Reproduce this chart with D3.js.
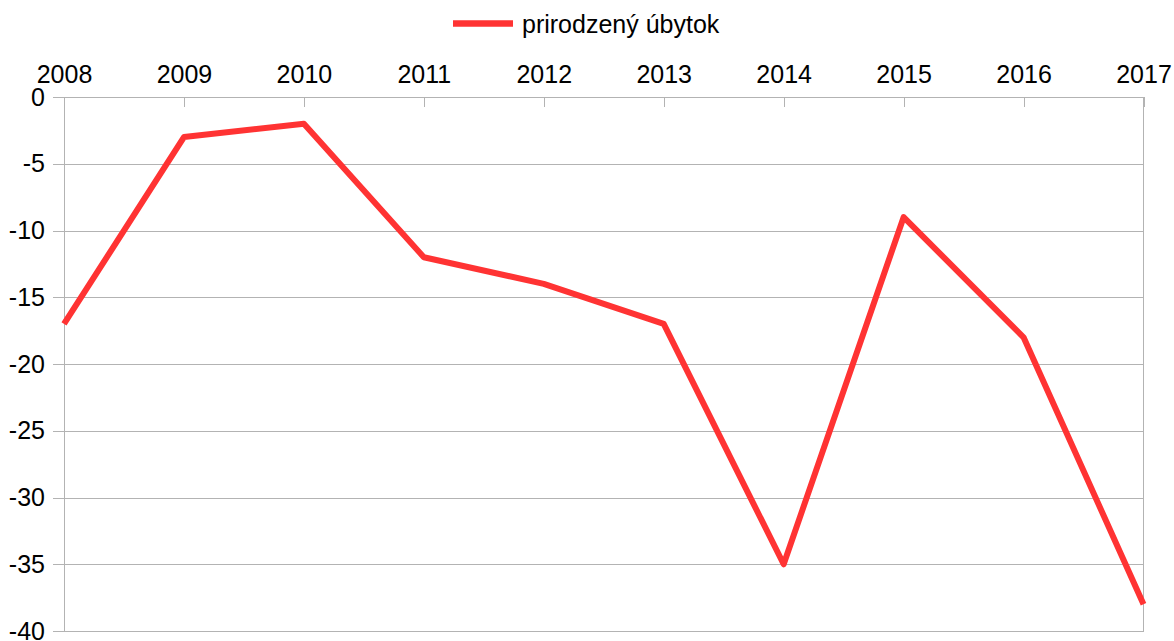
<!DOCTYPE html>
<html>
<head>
<meta charset="utf-8">
<script src="https://cdn.jsdelivr.net/npm/d3@7"></script>
<style>
  body { margin: 0; background: #fff; }
  svg text { font-family: "Liberation Sans", Arial, sans-serif; fill: #000; }
  .axis path { display: none; }
  .axis line, .grid line { stroke: #b3b3b3; stroke-width: 1; shape-rendering: crispEdges; }
</style>
</head>
<body>
<svg id="chart"></svg>
<script>
// Data
var years = ["2008", "2009", "2010", "2011", "2012", "2013", "2014", "2015", "2016", "2017"];
var ubytok = [-17, -3, -2, -12, -14, -17, -35, -9, -18, -38];
var yTicks = [0, -5, -10, -15, -20, -25, -30, -35, -40];
var seriesName = "prirodzený úbytok";

// Define margins
var margin = { top: 97, right: 30.5, bottom: 10, left: 64 },
    width = 1174 - margin.left - margin.right,
    height = 641 - margin.top - margin.bottom;

var svg = d3.select("#chart")
    .attr("width", 1174)
    .attr("height", 641);

var g = svg.append("g")
    .attr("transform", "translate(" + margin.left + "," + margin.top + ")");

// Define scales
var xScale = d3.scalePoint().domain(years).range([0, width]);
var yScale = d3.scaleLinear().domain([-40, 0]).range([534, 0]);

// Horizontal grid
g.append("g")
    .attr("class", "grid")
    .selectAll("line")
    .data(yTicks)
    .enter()
    .append("line")
    .attr("x1", 0)
    .attr("x2", width)
    .attr("y1", function (d) { return Math.round(yScale(d)) + 0.5; })
    .attr("y2", function (d) { return Math.round(yScale(d)) + 0.5; });

// Left and right borders
g.append("g")
    .attr("class", "grid")
    .selectAll("line")
    .data([0, width])
    .enter()
    .append("line")
    .attr("x1", function (d) { return d; })
    .attr("x2", function (d) { return d; })
    .attr("y1", 0)
    .attr("y2", yScale(-40));

// X axis on top, ticks pointing down
var xAxis = d3.axisTop(xScale).tickSize(-10).tickPadding(14);
g.append("g")
    .attr("class", "x axis")
    .call(xAxis)
    .selectAll("text")
    .style("font-size", "25px");

// Y axis (plain hyphen as minus sign)
var yAxis = d3.axisLeft(yScale)
    .tickValues(yTicks)
    .tickFormat(function (d) { return String(d); })
    .tickSize(11)
    .tickPadding(8);
g.append("g")
    .attr("class", "y axis")
    .call(yAxis)
    .selectAll("text")
    .style("font-size", "25px");

// Line
var line = d3.line()
    .x(function (d, i) { return xScale(years[i]); })
    .y(function (d) { return yScale(d); });

g.append("path")
    .datum(ubytok)
    .attr("d", line)
    .attr("fill", "none")
    .attr("stroke", "#ff3333")
    .attr("stroke-width", 6)
    .attr("stroke-linejoin", "round");

// Legend
var legend = svg.append("g").attr("transform", "translate(453,23.5)");
legend.append("line")
    .attr("x1", 0)
    .attr("x2", 60)
    .attr("stroke", "#ff3333")
    .attr("stroke-width", 6.5);
legend.append("text")
    .attr("x", 69)
    .attr("y", 9)
    .style("font-size", "25px")
    .text(seriesName);
</script>
</body>
</html>
